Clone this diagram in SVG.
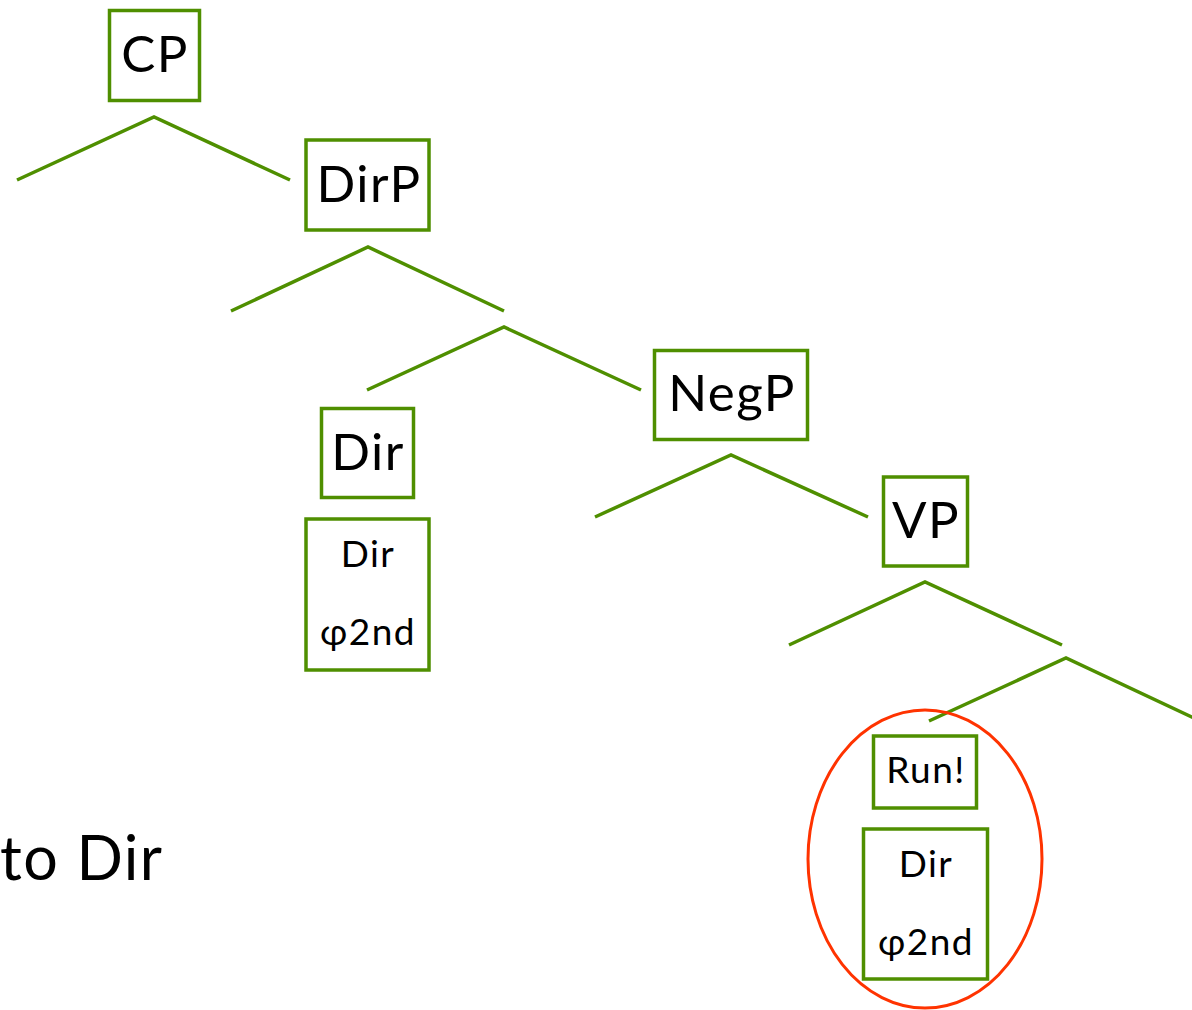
<svg xmlns="http://www.w3.org/2000/svg" width="1192" height="1010" viewBox="0 0 1192 1010">
<style>
.box{fill:#fff;stroke:#4f8f00;stroke-width:3.5}
.edge{fill:none;stroke:#4f8f00;stroke-width:3.5}
.big{font-family:Lato,"Open Sans",sans-serif;font-size:51px;letter-spacing:1.5px;fill:#000;text-anchor:middle}
.small{font-family:Lato,"Open Sans",sans-serif;font-size:37px;letter-spacing:1.5px;fill:#000;text-anchor:middle}
</style>
<rect width="1192" height="1010" fill="#fff"/>
<g id="connectors">
<polyline class="edge" points="17,180 154,117 290,180"/>
<polyline class="edge" points="231,311 368,247 504,311"/>
<polyline class="edge" points="367,390 504,327 641,390"/>
<polyline class="edge" points="595,517 731,455 868,517"/>
<polyline class="edge" points="789,645 925,582 1062,645"/>
<polyline class="edge" points="929,721 1066,658 1194,718"/>
</g>
<g id="cp"><rect class="box" x="109.5" y="10.5" width="90" height="90"/><text class="big" x="155" y="72">CP</text></g>
<g id="dirp"><rect class="box" x="306" y="140" width="123" height="90"/><text class="big" x="369" y="202">DirP</text></g>
<g id="dir"><rect class="box" x="321.5" y="408.5" width="92" height="89"/><text class="big" x="368" y="470">Dir</text></g>
<g id="dir-phi"><rect class="box" x="306" y="519" width="123" height="151"/><text class="small" x="368" y="567">Dir</text><text class="small" x="368" y="645">φ2nd</text></g>
<g id="negp"><rect class="box" x="654.5" y="350.5" width="153" height="89"/><text class="big" x="732" y="411">NegP</text></g>
<g id="vp"><rect class="box" x="883.5" y="477" width="84" height="89"/><text class="big" x="926" y="538">VP</text></g>
<g id="run"><rect class="box" x="873.5" y="736" width="103" height="72"/><text class="small" x="926" y="783">Run!</text></g>
<g id="dir-phi-2"><rect class="box" x="863.5" y="829" width="124" height="150"/><text class="small" x="926" y="877">Dir</text><text class="small" x="926" y="955">φ2nd</text></g>
<g id="highlight"><ellipse cx="925" cy="859" rx="117" ry="149" fill="none" stroke="#ff3300" stroke-width="3"/></g>
<g id="caption"><text class="big" x="0" y="880" style="text-anchor:start;font-size:61px">to Dir</text></g>
</svg>
